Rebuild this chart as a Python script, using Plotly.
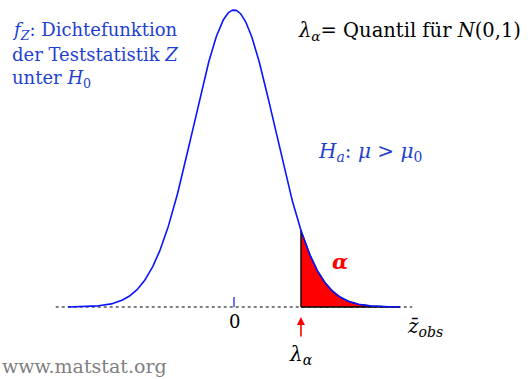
import numpy as np
import plotly.graph_objects as go

# Standard normal density of the test statistic Z under H0
z_min, z_max = -4.08, 4.08
lambda_alpha = 1.645          # upper alpha-quantile of N(0,1), alpha = 0.05
baseline_range = [-4.38, 4.38]
tick_label = "0"

z = np.linspace(z_min, z_max, 400)
pdf = np.exp(-z**2 / 2) / np.sqrt(2 * np.pi)

z_tail = np.linspace(lambda_alpha, z_max, 200)
pdf_tail = np.exp(-z_tail**2 / 2) / np.sqrt(2 * np.pi)

W, H = 532, 379
px_per_unit_x = 40.7
x0_px = 234
y_base_px = 307
px_per_unit_y = 297 / pdf.max()

x_range = [-x0_px / px_per_unit_x, (W - x0_px) / px_per_unit_x]
y_range = [-(H - y_base_px) / px_per_unit_y, y_base_px / px_per_unit_y]

fig = go.Figure()

# dotted horizontal axis
fig.add_trace(go.Scatter(x=baseline_range, y=[0, 0], mode="lines",
                         line=dict(color="black", width=1, dash="dot"),
                         hoverinfo="skip"))

# rejection region (alpha)
fig.add_trace(go.Scatter(
    x=np.concatenate([[lambda_alpha], z_tail, [z_max, lambda_alpha]]),
    y=np.concatenate([[0], pdf_tail, [0, 0]]),
    mode="lines", fill="toself", fillcolor="#ff0000",
    line=dict(color="black", width=1.3), hoverinfo="skip"))

# density curve
fig.add_trace(go.Scatter(x=z, y=pdf, mode="lines",
                         line=dict(color="#0a14ff", width=1.6),
                         hoverinfo="skip"))

# tick at 0
fig.add_shape(type="line", x0=0, x1=0, y0=0, y1=10 / px_per_unit_y,
              line=dict(color="#0a14ff", width=1.2))

# red arrow pointing at lambda_alpha
fig.add_annotation(x=lambda_alpha, y=-10 / px_per_unit_y, ax=lambda_alpha,
                   ay=-31 / px_per_unit_y, xref="x", yref="y", axref="x",
                   ayref="y", showarrow=True, arrowhead=2, arrowsize=1,
                   arrowwidth=1.6, arrowcolor="#ff0000", text="")

serif = "DejaVu Serif"
blue_txt = "#1f3fd0"


def pxx(p):
    return p / W


def pxy(p):
    return 1 - p / H


def note(text, x, y, color="black", size=18, xanchor="left", yanchor="middle",
         align="left"):
    fig.add_annotation(text=text, x=pxx(x), y=pxy(y), xref="paper",
                       yref="paper", showarrow=False, xanchor=xanchor,
                       yanchor=yanchor, align=align,
                       font=dict(family=serif, size=size, color=color))


note("<i>f</i><sub><i>Z</i></sub>: Dichtefunktion", 10, 31, color=blue_txt)
note("der Teststatistik <i>Z</i>", 10, 55, color=blue_txt)
note("unter <i>H</i><sub>0</sub>", 10, 79, color=blue_txt)
note("<i>λ</i><sub><i>α</i></sub>= Quantil für <i>N</i>(0,1)", 296, 32,
     size=19.5)
note("<i>H</i><sub><i>a</i></sub>: <i>μ</i> &gt; <i>μ</i><sub>0</sub>",
     316, 152, color=blue_txt, size=20)
note("<b><i>α</i></b>", 340, 261, color="#ff0000", size=21,
     xanchor="center")
note(tick_label, 234, 321, xanchor="center")
note("<i>z̄</i><sub><i>obs</i></sub>", 405, 327, size=20)
note("<i>λ</i><sub><i>α</i></sub>", 301, 355, xanchor="center", size=20)
note("www.matstat.org", 0, 366, color="#808080", size=19)

fig.update_layout(
    width=W, height=H, margin=dict(l=0, r=0, t=0, b=0),
    paper_bgcolor="white", plot_bgcolor="white", showlegend=False,
    xaxis=dict(range=x_range, visible=False, fixedrange=True),
    yaxis=dict(range=y_range, visible=False, fixedrange=True),
)

fig.write_html("out.html")
